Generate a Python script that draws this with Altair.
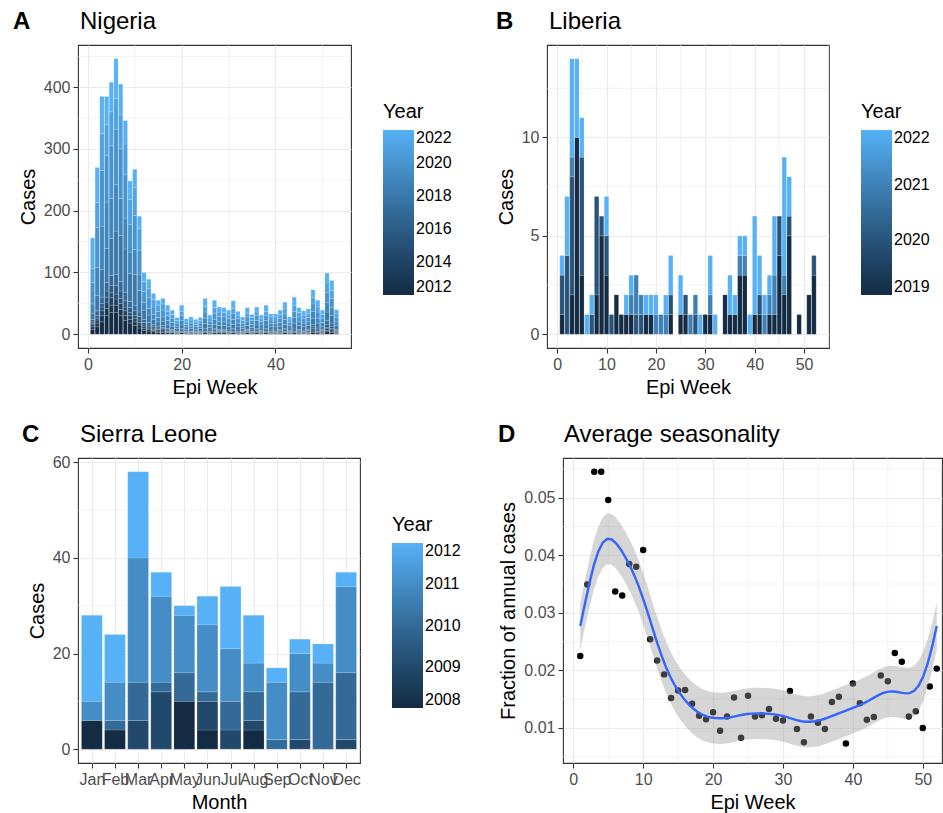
import numpy as np
import pandas as pd
import altair as alt

FONT = "Liberation Sans"
LOW, HIGH = "#132B43", "#56B1F7"
GRID = "#EBEBEB"

# ---------------- Nigeria: weekly cases by year, epi weeks 1-53 ----------------
nga_weeks = list(range(1, 54))
nga = {
    2012: [8, 12, 20, 30, 35, 35, 30, 22, 18, 14, 10, 6, 5, 4, 3, 3,
           2, 2, 1, 2, 1, 1, 1, 1, 2, 1, 2, 2, 2, 1, 2, 1, 1, 2, 1, 2,
           1, 2, 1, 1, 1, 2, 1, 2, 1, 1, 1, 3, 2, 1, 4, 3, 1],
    2013: [4, 6, 10, 12, 12, 12, 10, 8, 6, 6, 5, 3, 3, 2, 2, 2,
           1, 1, 1, 1, 0, 1, 1, 0, 1, 1, 1, 1, 1, 1, 1, 1, 0, 1, 1, 1,
           1, 1, 1, 1, 1, 1, 1, 1, 1, 1, 1, 2, 1, 1, 2, 2, 1],
    2014: [3, 5, 8, 10, 12, 10, 10, 8, 6, 5, 4, 3, 2, 2, 2, 2,
           1, 1, 1, 1, 1, 1, 0, 1, 1, 1, 1, 1, 1, 1, 1, 1, 1, 1, 1, 1,
           1, 1, 1, 1, 1, 1, 1, 1, 1, 1, 1, 2, 1, 1, 3, 2, 1],
    2015: [2, 3, 6, 8, 8, 8, 8, 6, 5, 5, 4, 3, 2, 2, 1, 2,
           1, 1, 0, 1, 1, 0, 1, 1, 1, 1, 1, 1, 1, 1, 1, 1, 1, 1, 1, 1,
           1, 1, 1, 1, 1, 1, 1, 1, 1, 1, 1, 2, 1, 1, 2, 2, 1],
    2016: [3, 4, 6, 10, 12, 14, 12, 10, 8, 8, 6, 4, 3, 3, 2, 2,
           2, 1, 1, 2, 1, 1, 1, 1, 2, 1, 2, 1, 1, 1, 2, 1, 1, 1, 1, 2,
           1, 2, 1, 1, 2, 2, 1, 2, 2, 1, 2, 3, 2, 2, 5, 4, 2],
    2017: [4, 8, 10, 14, 16, 18, 15, 14, 10, 9, 7, 5, 4, 3, 3, 3,
           2, 2, 1, 2, 1, 1, 1, 1, 2, 2, 2, 2, 2, 2, 2, 2, 1, 2, 2, 2,
           1, 2, 2, 2, 2, 2, 1, 3, 2, 2, 2, 4, 3, 2, 6, 5, 2],
    2018: [10, 25, 45, 55, 60, 70, 75, 70, 45, 50, 35, 15, 12, 8, 7, 7,
           6, 5, 4, 6, 3, 4, 3, 4, 8, 4, 7, 6, 6, 5, 7, 5, 4, 6, 4, 6,
           4, 6, 5, 5, 5, 7, 4, 8, 6, 5, 6, 10, 8, 5, 14, 12, 6],
    2019: [15, 45, 70, 75, 65, 75, 60, 50, 35, 40, 25, 12, 11, 8, 7, 7,
           7, 6, 4, 7, 4, 4, 4, 4, 9, 5, 8, 7, 6, 6, 8, 6, 4, 6, 5, 7,
           5, 7, 5, 5, 6, 8, 4, 9, 6, 6, 6, 11, 8, 6, 15, 13, 6],
    2020: [35, 65, 90, 75, 85, 90, 80, 70, 45, 55, 40, 18, 17, 12, 10, 11,
           8, 7, 5, 8, 4, 5, 4, 5, 10, 5, 10, 8, 8, 7, 10, 7, 5, 8, 6, 8,
           6, 8, 6, 6, 7, 9, 5, 10, 8, 7, 7, 12, 10, 7, 17, 15, 7],
    2021: [22, 40, 60, 50, 55, 50, 55, 50, 40, 45, 35, 16, 15, 12, 10, 10,
           7, 6, 4, 7, 4, 5, 4, 4, 9, 5, 9, 7, 7, 6, 8, 5, 4, 6, 5, 6,
           4, 7, 5, 5, 6, 8, 4, 10, 7, 6, 6, 10, 8, 6, 15, 13, 6],
    2022: [50, 57, 60, 46, 48, 64, 50, 38, 30, 30, 20, 15, 15, 10, 8, 9,
           10, 7, 5, 10, 5, 5, 4, 5, 13, 5, 12, 8, 8, 8, 12, 7, 6, 9, 5, 8,
           6, 10, 5, 5, 7, 11, 5, 13, 8, 7, 8, 13, 11, 7, 16, 16, 7],
}

# ---------------- Liberia: weekly cases by year, epi weeks 1-52 ----------------
lbr_weeks = list(range(1, 53))
lbr = {
    2019: [1, 0, 2, 10, 3, 0, 0, 2, 5, 3, 0, 2, 1, 1, 1, 0, 0, 1, 1, 0,
           0, 0, 1, 0, 1, 1, 0, 0, 0, 1, 1, 0, 0, 2, 1, 1, 3, 3, 0, 1,
           1, 0, 1, 1, 4, 2, 5, 0, 1, 0, 2, 3],
    2020: [2, 4, 6, 0, 6, 0, 1, 5, 1, 2, 1, 0, 0, 0, 0, 1, 1, 0, 0, 0,
           0, 0, 1, 0, 0, 1, 0, 1, 0, 0, 0, 0, 0, 0, 0, 0, 0, 0, 0, 0,
           1, 0, 0, 0, 2, 0, 1, 0, 0, 0, 0, 1],
    2021: [0, 0, 1, 0, 0, 0, 0, 0, 0, 0, 0, 0, 0, 0, 1, 2, 1, 0, 0, 1,
           1, 1, 0, 0, 0, 0, 1, 1, 0, 0, 1, 0, 0, 0, 0, 0, 1, 1, 0, 0,
           0, 1, 1, 2, 0, 1, 0, 0, 0, 0, 0, 0],
    2022: [1, 3, 5, 4, 2, 1, 1, 0, 0, 2, 0, 0, 0, 1, 1, 0, 0, 1, 1, 1,
           0, 1, 2, 0, 2, 0, 0, 0, 1, 0, 2, 1, 0, 0, 2, 1, 1, 1, 1, 5,
           2, 1, 1, 3, 0, 6, 2, 0, 0, 0, 0, 0],
}

# ---------------- Sierra Leone: monthly cases by year ----------------
months = ["Jan", "Feb", "Mar", "Apr", "May", "Jun",
          "Jul", "Aug", "Sep", "Oct", "Nov", "Dec"]
sle = {
    2008: [6, 4, 0, 0, 10, 4, 0, 4, 0, 0, 0, 0],
    2009: [0, 0, 6, 12, 0, 6, 4, 2, 0, 2, 0, 2],
    2010: [0, 2, 8, 2, 6, 2, 6, 6, 2, 10, 14, 14],
    2011: [4, 8, 26, 18, 12, 14, 11, 6, 12, 8, 4, 18],
    2012: [18, 10, 18, 5, 2, 6, 13, 10, 3, 3, 4, 3],
}

# ---------------- Average seasonality: fraction of annual cases per week ----------------
season_weeks = list(range(1, 53))
season_frac = [0.0225, 0.0349, 0.0545, 0.0545, 0.0496, 0.0337, 0.0330, 0.0385, 0.0380, 0.0409,
               0.0254, 0.0217, 0.0193, 0.0152, 0.0165, 0.0166, 0.0142, 0.0121, 0.0115, 0.0127,
               0.0095, 0.0120, 0.0153, 0.0083, 0.0156, 0.0120, 0.0122, 0.0133, 0.0116, 0.0113,
               0.0164, 0.0098, 0.0075, 0.0120, 0.0109, 0.0098, 0.0145, 0.0154, 0.0073, 0.0177,
               0.0143, 0.0114, 0.0119, 0.0191, 0.0181, 0.0230, 0.0215, 0.0120, 0.0129, 0.0100,
               0.0172, 0.0203]


def long_table(series, positions):
    rows = [{"year": yr, "pos": p, "cases": c}
            for yr, vals in series.items()
            for p, c in zip(positions, vals) if c > 0]
    return pd.DataFrame(rows)


def cyclic_smooth(x, y, xs, harmonics=10, target_edf=9.0):
    """Penalised cyclic smoother (Fourier basis with a curvature penalty) joining
    the first and last week, with a 95% confidence band."""
    x = np.asarray(x, float)
    y = np.asarray(y, float)
    n = len(x)
    x0, period = x.min(), x.max() - x.min()

    def basis(v):
        v = np.asarray(v, float)
        cols = [np.ones_like(v)]
        for k in range(1, harmonics + 1):
            ang = 2 * np.pi * k * (v - x0) / period
            cols += [np.cos(ang), np.sin(ang)]
        return np.column_stack(cols)

    X = basis(x)
    pen = np.diag([0.0] + [float(k) ** 4 for k in range(1, harmonics + 1) for _ in range(2)])
    XtX = X.T @ X
    best = None
    for lam in np.logspace(-6, 3, 361):
        A = np.linalg.inv(XtX + lam * pen)
        edf = np.trace(A @ XtX)
        gap = abs(edf - target_edf)
        if best is None or gap < best[0]:
            best = (gap, A, edf)
    _, A, edf = best
    beta = A @ X.T @ y
    rss = np.sum((y - X @ beta) ** 2)
    dof = n - edf
    s2 = rss / dof
    z = 1.959964
    t = z + (z ** 3 + z) / (4 * dof) + (5 * z ** 5 + 16 * z ** 3 + 3 * z) / (96 * dof ** 2)
    B = basis(xs)
    fit = B @ beta
    se = np.sqrt(s2 * np.sum((B @ A) * B, axis=1))
    return pd.DataFrame({"x": xs, "fit": fit, "lo": fit - t * se, "hi": fit + t * se})


def label_layer(text, dx, dy, bold):
    return alt.Chart(pd.DataFrame({"t": [text]})).mark_text(
        align="left", baseline="alphabetic", font=FONT, fontSize=24,
        fontWeight="bold" if bold else "normal", color="black"
    ).encode(x=alt.value(dx), y=alt.value(dy), text="t:N")


def minor_rules(xs, ys, xscale, yscale, xtitle, ytitle):
    out = []
    if xs:
        out.append(alt.Chart(pd.DataFrame({"v": xs})).mark_rule(color=GRID, strokeWidth=0.6)
                   .encode(x=alt.X("v:Q", scale=xscale, title=xtitle)))
    if ys:
        out.append(alt.Chart(pd.DataFrame({"v": ys})).mark_rule(color=GRID, strokeWidth=0.6)
                   .encode(y=alt.Y("v:Q", scale=yscale, title=ytitle)))
    return out


def bar_panel(df, xdom, ydom, xvals, yvals, xminor, yminor, cdom, cvals,
              xtitle, tag, title, tag_dx, width, height, label_expr=None):
    xscale = alt.Scale(domain=xdom, nice=False, zero=False)
    yscale = alt.Scale(domain=ydom, nice=False, zero=False)
    xaxis_kw = dict(values=xvals, title=xtitle, grid=True)
    if label_expr:
        xaxis_kw["labelExpr"] = label_expr
        xaxis_kw["labelOverlap"] = False
    bars = alt.Chart(df).transform_stack(
        stack="cases", groupby=["pos"], as_=["y0", "y1"],
        sort=[alt.SortField("year", order="ascending")]
    ).transform_calculate(
        x0="datum.pos - 0.45", x1="datum.pos + 0.45"
    ).mark_bar(stroke="white", strokeWidth=0.4, strokeOpacity=0.35).encode(
        x=alt.X("x0:Q", scale=xscale, axis=alt.Axis(**xaxis_kw)),
        x2="x1:Q",
        y=alt.Y("y0:Q", scale=yscale, axis=alt.Axis(values=yvals, title="Cases", grid=True)),
        y2="y1:Q",
        color=alt.Color("year:Q",
                        scale=alt.Scale(domain=cdom, range=[LOW, HIGH], interpolate="lab"),
                        legend=alt.Legend(title="Year", orient="none", legendX=width + 32,
                                          legendY=57, values=cvals, format="d",
                                          direction="vertical", gradientLength=165,
                                          gradientThickness=31, labelBaseline="middle",
                                          labelOverlap=False)),
    )
    layers = minor_rules(xminor, yminor, xscale, yscale, xtitle, "Cases")
    layers += [bars, label_layer(tag, tag_dx, -16, True), label_layer(title, 2, -16, False)]
    return alt.layer(*layers).properties(width=width, height=height)


panel_a = bar_panel(long_table(nga, nga_weeks), [-2.1, 56.1], [-22.3, 468.3],
                    [0, 20, 40], [0, 100, 200, 300, 400], [10, 30, 50],
                    [50, 150, 250, 350, 450], [2012, 2022],
                    [2012, 2014, 2016, 2018, 2020, 2022],
                    "Epi Week", "A", "Nigeria", -65, 273, 303)

panel_b = bar_panel(long_table(lbr, lbr_weeks), [-2.05, 55.05], [-0.7, 14.7],
                    [0, 10, 20, 30, 40, 50], [0, 5, 10], [5, 15, 25, 35, 45, 55],
                    [2.5, 7.5, 12.5], [2019, 2022], [2019, 2020, 2021, 2022],
                    "Epi Week", "B", "Liberia", -51, 282, 303)

month_expr = "[" + ",".join("'%s'" % m for m in months) + "][datum.value - 1]"
panel_c = bar_panel(long_table(sle, list(range(1, 13))), [0.4, 12.6], [-2.9, 60.9],
                    list(range(1, 13)), [0, 20, 40, 60], [], [10, 30, 50],
                    [2008, 2012], [2008, 2009, 2010, 2011, 2012],
                    "Month", "C", "Sierra Leone", -56, 282, 305, label_expr=month_expr)

# ---------------- Panel D ----------------
pts = pd.DataFrame({"week": season_weeks, "frac": season_frac})
smooth = cyclic_smooth(season_weeks, season_frac, np.linspace(1, 52, 80))
dx = alt.Scale(domain=[-1.47, 52.75], nice=False, zero=False)
dy = alt.Scale(domain=[0.0039, 0.0569], nice=False, zero=False)
d_xt, d_yt = "Epi Week", "Fraction of annual cases"

points = alt.Chart(pts).mark_circle(size=42, color="black", opacity=1).encode(
    x=alt.X("week:Q", scale=dx, axis=alt.Axis(values=[0, 10, 20, 30, 40, 50], title=d_xt, grid=True)),
    y=alt.Y("frac:Q", scale=dy, axis=alt.Axis(values=[0.01, 0.02, 0.03, 0.04, 0.05], format=".2f",
                                              title=d_yt, grid=True)),
)
band = alt.Chart(smooth).mark_area(color="#999999", opacity=0.4).encode(
    x=alt.X("x:Q", scale=dx, title=d_xt),
    y=alt.Y("lo:Q", scale=dy, title=d_yt),
    y2="hi:Q",
)
curve = alt.Chart(smooth).mark_line(color="#3366FF", strokeWidth=2.4).encode(
    x=alt.X("x:Q", scale=dx, title=d_xt),
    y=alt.Y("fit:Q", scale=dy, title=d_yt),
)
d_layers = minor_rules([5, 15, 25, 35, 45], [0.005, 0.015, 0.025, 0.035, 0.045, 0.055],
                       dx, dy, d_xt, d_yt)
d_layers += [points, band, curve,
             label_layer("D", -65, -16, True), label_layer("Average seasonality", 1, -16, False)]
panel_d = alt.layer(*d_layers).properties(width=379, height=305)

row1 = alt.hconcat(panel_a, panel_b, spacing=42).resolve_scale(color="independent")
row2 = alt.hconcat(panel_c, panel_d, spacing=35).resolve_scale(color="independent")

chart = alt.vconcat(row1, row2, spacing=24).resolve_scale(
    color="independent"
).properties(
    padding={"left": 12, "top": 9, "right": 0, "bottom": 0}
).configure(
    font=FONT, background="white"
).configure_view(
    stroke="#333333", strokeWidth=1.1
).configure_axis(
    labelFont=FONT, labelFontSize=16, labelColor="#4D4D4D", labelPadding=3,
    titleFont=FONT, titleFontSize=20, titleColor="black", titleFontWeight="normal",
    titlePadding=5, tickColor="#333333", tickSize=5, tickWidth=1.1,
    domain=False, gridColor=GRID, gridWidth=1.2,
).configure_legend(
    titleFont=FONT, titleFontSize=20, titleFontWeight="normal", titleColor="black",
    titlePadding=8, labelFont=FONT, labelFontSize=16, labelColor="black", labelOffset=12,
    gradientStrokeWidth=0,
)

chart.save("out.html", embed_options={"renderer": "svg", "actions": False})
